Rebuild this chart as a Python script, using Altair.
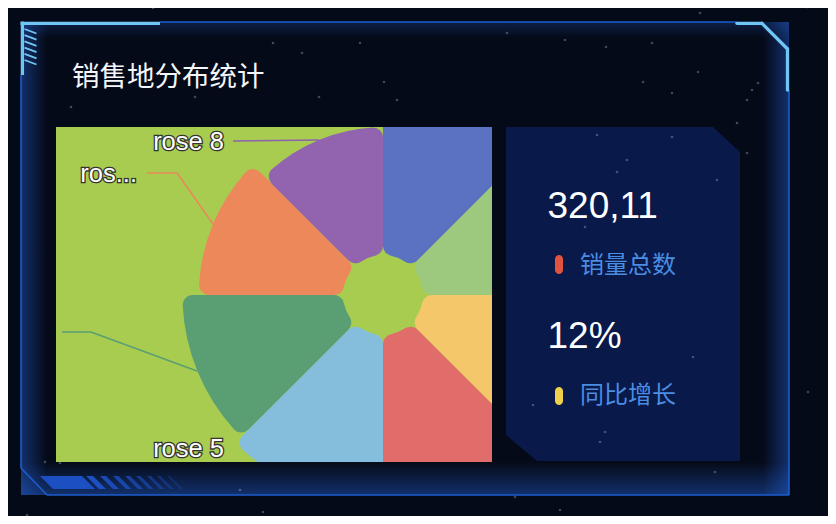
import altair as alt
import pandas as pd

# rose chart (equal angles, radius by value)
names = ["rose 1", "rose 2", "rose 3", "rose 4", "rose 5", "rose 6", "rose 7", "rose 8"]
values = [40, 38, 32, 30, 28, 26, 22, 18]
colors = ["#5a72c1", "#9dc97e", "#f4c86a", "#e06d69", "#84bedc", "#5a9e74", "#ec885a", "#9264b0"]

# side panel
title_text = "销售地分布统计"
stat_values = ["320,11", "12%"]
stat_labels = ["销量总数", "同比增长"]
stat_dots = ["#e0533e", "#f0d04a"]

# faint stars of the backdrop (page px)
star_x = [153, 273, 302, 384, 397, 319, 71, 195, 360, 507, 565, 606, 652, 698, 643, 672, 747,
          752, 758, 807, 700, 672, 585, 693, 533, 600, 605, 808, 515, 560, 715, 45, 60, 27, 263,
          240, 597, 627, 737, 747, 617, 717]
star_y = [8, 43, 53, 82, 100, 97, 107, 97, 43, 33, 40, 47, 43, 72, 82, 93, 100, 90, 83, 7, 13,
          137, 227, 357, 405, 442, 432, 392, 497, 510, 472, 462, 463, 515, 512, 490, 135, 160,
          123, 153, 172, 180]

# the rose plot area is the view; everything else is drawn around it (page px)
OX, OY = 56, 127
W, H = 436, 335
CX, CY = 383, 295

one = pd.DataFrame({"k": [0]})
FRAME = "#1d5ccf"
LIGHT = "#6fc6f5"
BLOCK = "#1c4fc2"


def seg(x1, y1, x2, y2, color, w, cap="butt", opacity=1.0):
    return alt.Chart(one).mark_rule(color=color, strokeWidth=w, strokeCap=cap, opacity=opacity).encode(
        x=alt.value(x1 - OX), y=alt.value(y1 - OY),
        x2=alt.value(x2 - OX), y2=alt.value(y2 - OY))


def poly(pts, color, opacity=1.0):
    xs = [p[0] - OX for p in pts]
    ys = [p[1] - OY for p in pts]
    cx = (min(xs) + max(xs)) / 2
    cy = (min(ys) + max(ys)) / 2
    half = max(max(xs) - min(xs), max(ys) - min(ys)) / 2
    path = "M" + " L".join(f"{(x - cx) / half:.4f},{(y - cy) / half:.4f}" for x, y in zip(xs, ys)) + " Z"
    return alt.Chart(one).mark_point(shape=path, size=(2 * half) ** 2, filled=True, color=color,
                                     opacity=opacity, strokeWidth=0).encode(
        x=alt.value(cx), y=alt.value(cy))


def glow(x1, y1, x2, y2, c0, c1, horizontal):
    grad = alt.LinearGradient(
        gradient="linear",
        stops=[alt.GradientStop(color=c0, offset=0), alt.GradientStop(color=c1, offset=1)],
        x1=0, y1=0, x2=1 if horizontal else 0, y2=0 if horizontal else 1)
    return alt.Chart(one).mark_rect(color=grad).encode(
        x=alt.value(x1 - OX), x2=alt.value(x2 - OX), y=alt.value(y1 - OY), y2=alt.value(y2 - OY))


def text(t, x, y, size, color, font, align="left", **kw):
    return alt.Chart(one).mark_text(text=t, align=align, baseline="alphabetic", font=font,
                                    fontSize=size, color=color, **kw).encode(
        x=alt.value(x - OX), y=alt.value(y - OY))


BLUE_GLOW = "rgba(35,95,210,0.45)"
NONE = "rgba(35,95,210,0)"
layers = [
    glow(21, 22, 47, 495, BLUE_GLOW, NONE, True),
    glow(763, 22, 789, 495, NONE, BLUE_GLOW, True),
    glow(21, 462, 789, 495, NONE, BLUE_GLOW, False),
    glow(21, 22, 789, 38, "rgba(35,95,210,0.25)", NONE, False),
    # frame
    seg(160, 22, 737, 22, FRAME, 1.6),
    seg(789, 90, 789, 495, FRAME, 1.6),
    seg(47, 495, 789, 495, FRAME, 1.6),
    seg(21, 468, 47, 495, FRAME, 1.6),
    seg(21, 75, 21, 468, FRAME, 1.6),
    seg(20.5, 23.3, 160, 23.3, LIGHT, 3.3),
    seg(22.4, 21.6, 22.4, 75, LIGHT, 3.3),
    seg(737, 23.3, 762, 23.3, LIGHT, 3.3, "round"),
    seg(762, 23.3, 787.5, 49, LIGHT, 3.3, "round"),
    seg(787.5, 49, 787.5, 90, LIGHT, 3.3, "round"),
    poly([(40, 476), (82, 476), (95, 489), (53, 489)], BLOCK),
]
for k in range(6):
    layers.append(seg(24.5, 29 + 6.2 * k, 36.5, 33.5 + 6.2 * k, LIGHT, 1.8))
for a, w, op in [(86, 7, 1.0), (100, 6, 0.9), (113, 5.5, 0.8), (125, 5, 0.7),
                 (136, 4.5, 0.6), (147, 4, 0.5), (157, 3.5, 0.4), (167, 3, 0.3)]:
    layers.append(poly([(a, 476), (a + w, 476), (a + w + 13, 489), (a + 13, 489)], BLOCK, op))

# right panel
layers.append(poly([(506, 127), (713, 127), (740, 152), (740, 461), (537, 461), (506, 435)], "#091949"))

stars = alt.Chart(pd.DataFrame({"sx": [x - OX for x in star_x], "sy": [y - OY for y in star_y]})).mark_circle(
    size=7, color="#a9bde0", opacity=0.35).encode(
    x=alt.X("sx:Q", scale=None, axis=None), y=alt.Y("sy:Q", scale=None, axis=None))
layers.append(stars)

CJK = "Noto Sans CJK SC"
SANS = "Liberation Sans"
layers += [
    text(title_text, 72, 86, 27.5, "#f4f6fa", CJK),
    text(stat_values[0], 547.5, 218, 37, "#ffffff", SANS),
    text(stat_values[1], 547.5, 348, 37, "#ffffff", SANS),
    text(stat_labels[0], 580, 273, 24, "#4b8de3", CJK),
    text(stat_labels[1], 580, 403, 24, "#4b8de3", CJK),
]
for i, (y0, y1) in enumerate([(255, 274), (387, 405)]):
    layers.append(alt.Chart(one).mark_rect(color=stat_dots[i], cornerRadius=4).encode(
        x=alt.value(555 - OX), x2=alt.value(563 - OX), y=alt.value(y0 - OY), y2=alt.value(y1 - OY)))

# equal sectors clockwise from 12 o'clock
rose_df = pd.DataFrame({"name": names, "value": values, "rank": list(range(len(names)))})
rose = alt.Chart(rose_df).transform_calculate(
    end="datum.rank + 1"
).mark_arc(innerRadius=40, cornerRadius=10, clip=True).encode(
    theta=alt.Theta("rank:Q", scale=alt.Scale(domain=[0, len(names)])),
    theta2="end:Q",
    radius=alt.Radius("value:Q", scale=alt.Scale(type="linear", domain=[0, 40], range=[94, 258])),
    color=alt.Color("name:N", scale=alt.Scale(domain=names, range=colors), legend=None),
    x=alt.value(CX - OX),
    y=alt.value(CY - OY),
)
layers.append(rose)

# label lines and outside labels
layers += [
    seg(233, 141, 319, 140, "#8e63ad", 1.5),
    seg(147, 173, 177, 173, colors[6], 1.5),
    seg(177, 173, 213, 224, colors[6], 1.5),
    seg(62, 332, 91, 332, colors[5], 1.5),
    seg(91, 332, 197, 371, colors[5], 1.5),
]
for t, x, y in [(names[7], 224, 150), ("ros...", 137, 182), (names[4], 224, 456.5)]:
    layers.append(text(t, x, y, 25.5, "#333333", SANS, align="right", stroke="#333333", strokeWidth=2.6))
    layers.append(text(t, x, y, 25.5, "#ffffff", SANS, align="right"))

chart = alt.layer(*layers).properties(
    width=W, height=H,
    padding={"left": OX - 8, "top": OY - 8, "right": 820 - (OX - 8) - W, "bottom": 508 - (OY - 8) - H},
    autosize=alt.AutoSizeParams(type="none"),
    background="#050a18",
).configure_view(fill="#a7cc4f", strokeWidth=0)

chart.save("out.html", embed_options={"renderer": "svg", "actions": False})
